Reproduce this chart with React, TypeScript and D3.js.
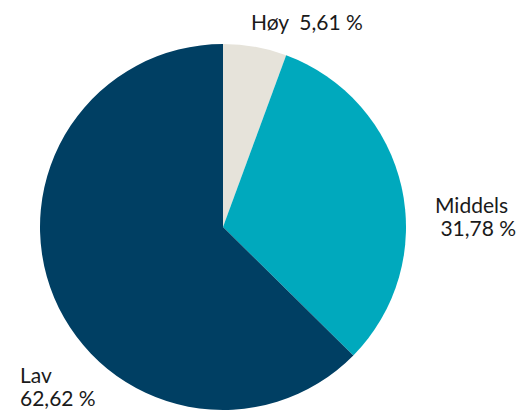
import React from "react";
import * as d3 from "d3";

const categories = ["Høy", "Middels", "Lav"];
const values = [5.61, 31.78, 62.62];
const colors = ["#e6e3da", "#00a9bd", "#003f63"];
const labelLines = [["Høy  5,61 %"], ["Middels", " 31,78 %"], ["Lav", "62,62 %"]];

const W = 519, H = 413;
const cx = 223, cy = 227, R = 183;
const labelPos = [
  { x: 251, y: 30, anchor: "start" },
  { x: 435, y: 213, anchor: "start" },
  { x: 20, y: 383, anchor: "start" },
];

export default function App() {
  const pie = d3.pie<number>().sort(null).value((d) => d)(values);
  const arc = d3.arc<d3.PieArcDatum<number>>().innerRadius(0).outerRadius(R);
  return (
    <svg width={W} height={H} style={{ position: "absolute", left: 0, top: 0 }}>
      <rect width={W} height={H} fill="#ffffff" />
      <g transform={`translate(${cx},${cy})`}>
        {pie.map((p, i) => (
          <path key={categories[i]} d={arc(p) || ""} fill={colors[i]} />
        ))}
      </g>
      {labelLines.map((lines, i) => (
        <text
          key={categories[i]}
          x={labelPos[i].x}
          y={labelPos[i].y}
          fontFamily="Lato, 'Open Sans', sans-serif"
          fontSize={21}
          fill="#1a1a1a"
          textAnchor={labelPos[i].anchor}
          style={{ whiteSpace: "pre" }}
        >
          {lines.map((l, j) => (
            <tspan key={j} x={labelPos[i].x} dy={j === 0 ? 0 : 22.5} xmlSpace="preserve">
              {l}
            </tspan>
          ))}
        </text>
      ))}
    </svg>
  );
}
